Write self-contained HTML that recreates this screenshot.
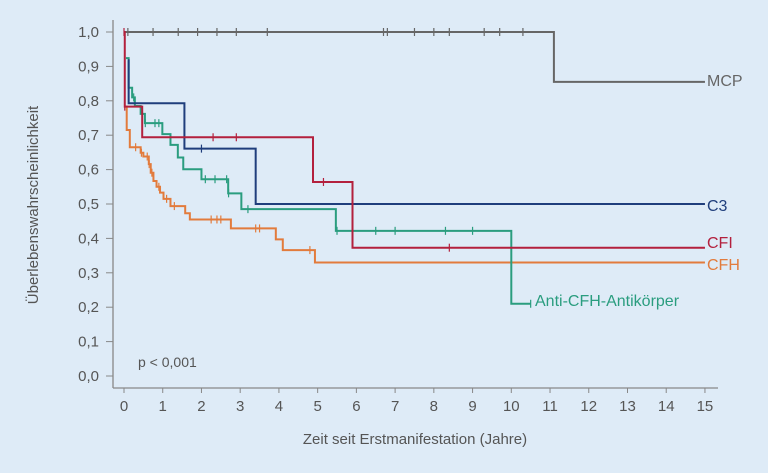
<!DOCTYPE html>
<html><head><meta charset="utf-8"><style>
body{margin:0;background:#deebf7;}
svg{display:block;font-family:"Liberation Sans",sans-serif;}
</style></head><body>
<svg id="chart" width="768" height="473" viewBox="0 0 768 473">
<rect width="768" height="473" fill="#deebf7"/>
<g id="axes"></g>
<g id="series"></g>
<text x="138" y="367" font-size="14" fill="#555">p &lt; 0,001</text>
<text x="415" y="444" font-size="15" fill="#555" text-anchor="middle">Zeit seit Erstmanifestation (Jahre)</text>
<text transform="translate(38,205) rotate(-90)" font-size="15" fill="#555" text-anchor="middle">Überlebenswahrscheinlichkeit</text>
</svg>
<script>
const xTicks=[0,1,2,3,4,5,6,7,8,9,10,11,12,13,14,15];
const yTicks=[0,0.1,0.2,0.3,0.4,0.5,0.6,0.7,0.8,0.9,1.0];
const mcpT=[0,11.1];
const mcpS=[1.0,0.855];
const mcpCens=[0.1,0.75,1.4,1.9,2.4,2.9,3.7,6.7,6.8,7.5,8,8.4,9.3,9.7,10.3];
const c3T=[0.1,0.12,1.56,3.4];
const c3S=[0.918,0.793,0.661,0.5];
const c3Cens=[2.0];
const cfiT=[0,0.02,0.47,4.88,5.9];
const cfiS=[1.0,0.783,0.694,0.564,0.373];
const cfiCens=[0.0,0.02,2.3,2.9,5.15,8.4];
const antiT=[0.05,0.12,0.21,0.28,0.43,0.54,0.99,1.2,1.39,1.53,2.0,2.69,3.03,5.47,10.0];
const antiS=[0.924,0.838,0.81,0.785,0.762,0.735,0.703,0.672,0.635,0.601,0.572,0.531,0.485,0.422,0.21];
const antiCens=[0.25,0.55,0.8,0.9,2.1,2.35,2.65,2.7,3.2,5.5,6.5,7.0,8.3,9.0,10.5];
const cfhT=[0,0.07,0.15,0.43,0.5,0.64,0.69,0.76,0.84,0.93,1.02,1.2,1.58,1.7,2.76,3.92,4.1,4.93];
const cfhS=[0.783,0.715,0.665,0.649,0.638,0.616,0.591,0.567,0.55,0.533,0.515,0.494,0.473,0.455,0.429,0.397,0.366,0.33];
const cfhCens=[0.3,0.45,0.6,0.65,0.72,0.9,1.1,1.3,2.25,2.4,2.5,3.4,3.5,4.8];

const X=t=>124+t*38.73, Y=v=>376-v*344;
const NS="http://www.w3.org/2000/svg";
function mk(tag,attrs,parent){const e=document.createElementNS(NS,tag);for(const k in attrs)e.setAttribute(k,attrs[k]);parent.appendChild(e);return e;}
const ax=document.getElementById('axes');
let l=mk('line',{x1:113,y1:20,x2:113,y2:388,stroke:'#888','stroke-width':1.3},ax);


l=mk('line',{x1:113,y1:388,x2:718,y2:388,stroke:'#888','stroke-width':1.3},ax);


xTicks.forEach(t=>{
 const tk=mk('line',{x1:X(t),y1:388,x2:X(t),y2:393,stroke:'#888'},ax);
 
 
 const tx=mk('text',{x:X(t),y:411,'font-size':15,fill:'#555','text-anchor':'middle'},ax);
 tx.textContent=t;
 
 
});
yTicks.forEach(v=>{
 const tk=mk('line',{x1:106,y1:Y(v),x2:113,y2:Y(v),stroke:'#888'},ax);
 
 
 const tx=mk('text',{x:99,y:Y(v)+5,'font-size':15,fill:'#555','text-anchor':'end'},ax);
 tx.textContent=v.toFixed(1).replace('.',',');
 
 
});
const sg=document.getElementById('series');
function survAt(T,S,t){let s=S[0];for(let i=0;i<T.length;i++)if(T[i]<=t)s=S[i];return s;}
function draw(name,T,S,cens,end,color,label,lx,ly){
 let d='M'+X(T[0])+','+Y(S[0]);
 for(let i=1;i<T.length;i++){d+=' H'+X(T[i])+' V'+Y(S[i]);}
 d+=' H'+X(end);
 const p=mk('path',{d:d,fill:'none',stroke:color,'stroke-width':2},sg);
 
 
 cens.forEach(c=>{const y=Y(survAt(T,S,c));
  const m=mk('line',{x1:X(c),y1:y-4,x2:X(c),y2:y+4,stroke:color,'stroke-width':1.2},sg);
  
  });
 const t=mk('text',{x:lx,y:ly,'font-size':16,fill:color},sg);
 t.textContent=label;
 
 
}
draw('mcp',mcpT,mcpS,mcpCens,15,'#666666','MCP',707,86);
draw('cfh',cfhT,cfhS,cfhCens,15,'#e27b3c','CFH',707,270);
draw('anti-cfh',antiT,antiS,antiCens,10.5,'#2a9d7f','Anti-CFH-Antikörper',535,306);
draw('c3',c3T,c3S,c3Cens,15,'#1f3e7c','C3',707,211);
draw('cfi',cfiT,cfiS,cfiCens,15,'#b3203d','CFI',707,248);
</script>
</body></html>
